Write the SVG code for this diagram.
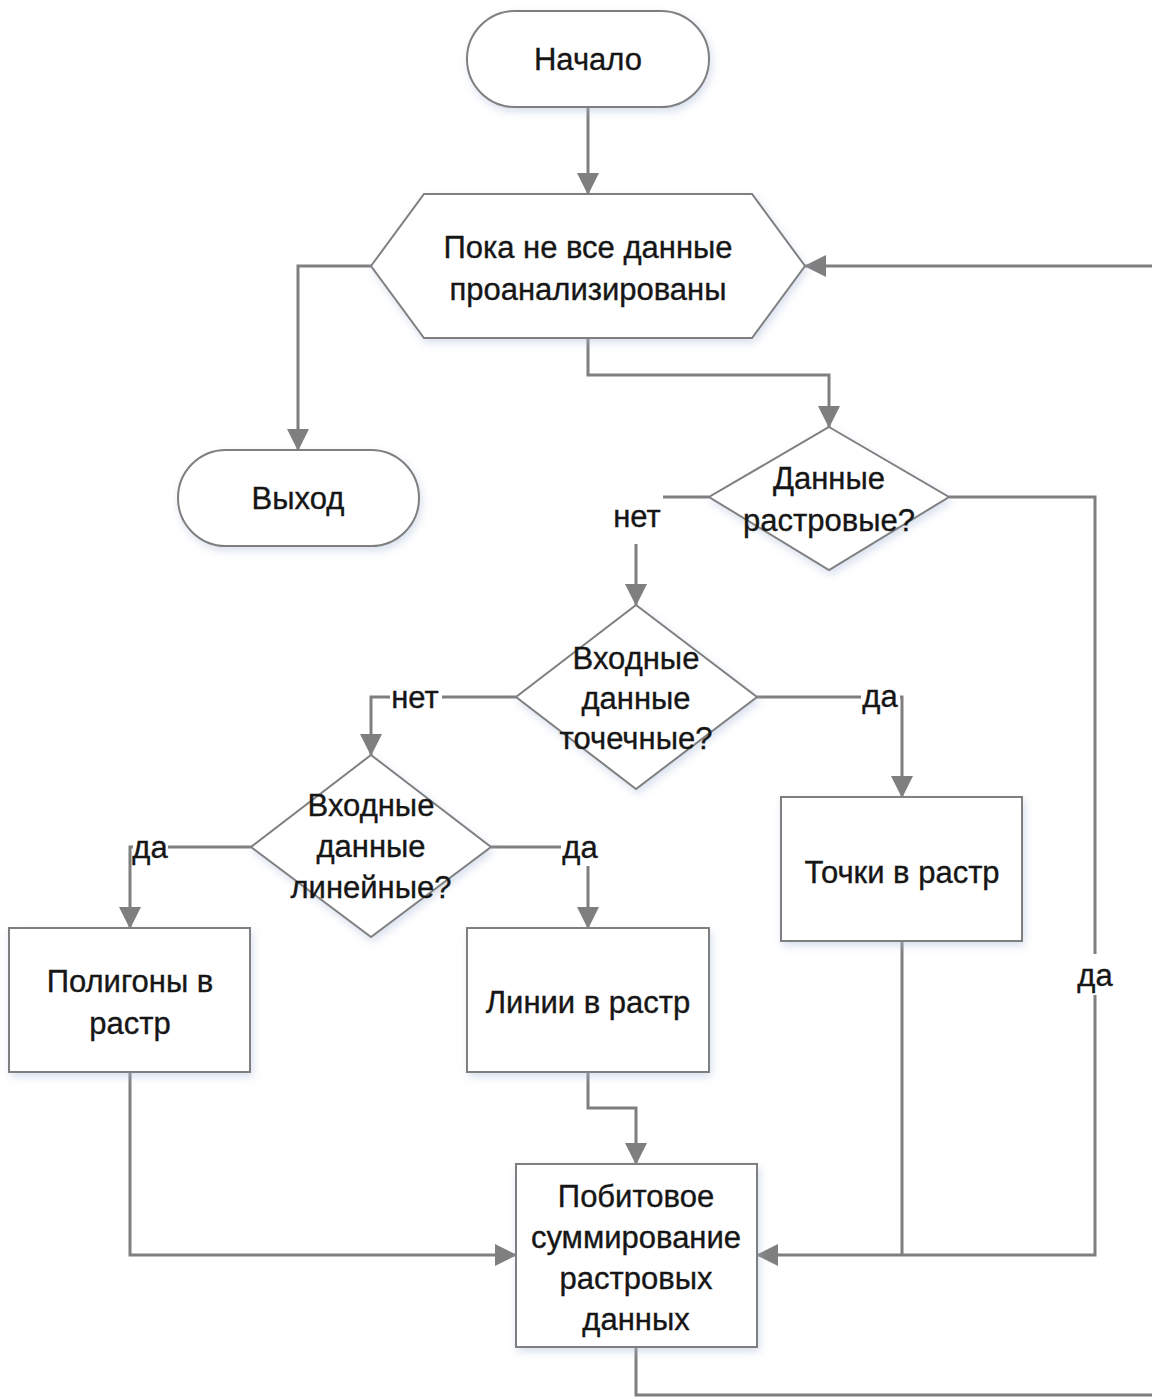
<svg xmlns="http://www.w3.org/2000/svg" width="1152" height="1399" viewBox="0 0 1152 1399">
  <style>
    .shape { fill: #ffffff; stroke: #7f7f7f; stroke-width: 2; filter: url(#soft); }
    .link { fill: none; stroke: #7f7f7f; stroke-width: 3; }
    .arrow { marker-end: url(#head); }
    .t { font-family: "Liberation Sans", Arial, sans-serif; font-size: 31px; fill: #161616; stroke: #161616; stroke-width: 0.35; text-anchor: middle; }
    .lbl-bg { fill: #ffffff; stroke: none; }
  </style>
  <defs>
    <filter id="soft" x="-10%" y="-10%" width="125%" height="130%">
      <feDropShadow dx="2" dy="4" stdDeviation="4" flood-color="#a9bcd9" flood-opacity="0.45"/>
    </filter>
    <marker id="head" markerUnits="userSpaceOnUse" markerWidth="22" markerHeight="22" viewBox="0 0 22 22" refX="21" refY="11" orient="auto">
      <path d="M0,0 L22,11 L0,22 Z" fill="#7f7f7f"/>
    </marker>
  </defs>

  <rect width="1152" height="1399" fill="#ffffff"/>

  <!-- connectors -->
  <g id="connectors">
    <path class="link arrow" d="M588,107 V194"/>
    <path class="link arrow" d="M371,266 H298 V450"/>
    <path class="link arrow" d="M588,338 V375 H829 V427"/>
    <path class="link arrow" d="M709,497 H636 V605"/>
    <path class="link arrow" d="M949,497 H1095 V1255 H757"/>
    <path class="link arrow" d="M516,697 H371 V755"/>
    <path class="link arrow" d="M757,697 H902 V797"/>
    <path class="link arrow" d="M251,847 H130 V928"/>
    <path class="link arrow" d="M491,847 H588 V928"/>
    <path class="link arrow" d="M130,1072 V1255 H516"/>
    <path class="link arrow" d="M588,1072 V1108 H636 V1164"/>
    <path class="link" d="M902,941 V1255"/>
    <path class="link arrow" d="M636,1347 V1395 H1160 V266 H805"/>

    <!-- branch labels -->
    <rect class="lbl-bg" x="610" y="490" width="53" height="54"/>
    <text class="t" x="637" y="527">нет</text>
    <rect class="lbl-bg" x="390" y="683" width="52" height="30"/>
    <text class="t" x="415" y="708">нет</text>
    <rect class="lbl-bg" x="861" y="682" width="39" height="30"/>
    <text class="t" x="880" y="707">да</text>
    <rect class="lbl-bg" x="133" y="835" width="35" height="30"/>
    <text class="t" x="150" y="858">да</text>
    <rect class="lbl-bg" x="561" y="834" width="38" height="32"/>
    <text class="t" x="580" y="858">да</text>
    <rect class="lbl-bg" x="1076" y="954" width="38" height="41"/>
    <text class="t" x="1095" y="986">да</text>
  </g>

  <g id="start">
    <rect class="shape" x="467" y="11" width="242" height="96" rx="48" ry="48"/>
    <text class="t" x="588" y="70">Начало</text>
  </g>

  <g id="loop">
    <polygon class="shape" points="371,266 424,194 752,194 805,266 752,338 424,338"/>
    <text class="t" x="588" y="258">Пока не все данные</text>
    <text class="t" x="588" y="300">проанализированы</text>
  </g>

  <g id="exit">
    <rect class="shape" x="178" y="450" width="241" height="96" rx="48" ry="48"/>
    <text class="t" x="298" y="509">Выход</text>
  </g>

  <g id="is-raster">
    <polygon class="shape" points="829,427 949,497 829,570 709,497"/>
    <text class="t" x="829" y="489">Данные</text>
    <text class="t" x="829" y="531">растровые?</text>
  </g>

  <g id="is-point">
    <polygon class="shape" points="636,605 757,697 636,789 516,697"/>
    <text class="t" x="636" y="669">Входные</text>
    <text class="t" x="636" y="709">данные</text>
    <text class="t" x="636" y="749">точечные?</text>
  </g>

  <g id="is-line">
    <polygon class="shape" points="371,755 491,847 371,937 251,847"/>
    <text class="t" x="371" y="816">Входные</text>
    <text class="t" x="371" y="857">данные</text>
    <text class="t" x="371" y="898">линейные?</text>
  </g>

  <g id="points-to-raster">
    <rect class="shape" x="781" y="797" width="241" height="144"/>
    <text class="t" x="902" y="883">Точки в растр</text>
  </g>

  <g id="polygons-to-raster">
    <rect class="shape" x="9" y="928" width="241" height="144"/>
    <text class="t" x="130" y="992">Полигоны в</text>
    <text class="t" x="130" y="1034">растр</text>
  </g>

  <g id="lines-to-raster">
    <rect class="shape" x="467" y="928" width="242" height="144"/>
    <text class="t" x="588" y="1013">Линии в растр</text>
  </g>

  <g id="bitwise-sum">
    <rect class="shape" x="516" y="1164" width="241" height="183"/>
    <text class="t" x="636" y="1207">Побитовое</text>
    <text class="t" x="636" y="1248">суммирование</text>
    <text class="t" x="636" y="1289">растровых</text>
    <text class="t" x="636" y="1330">данных</text>
  </g>
</svg>
